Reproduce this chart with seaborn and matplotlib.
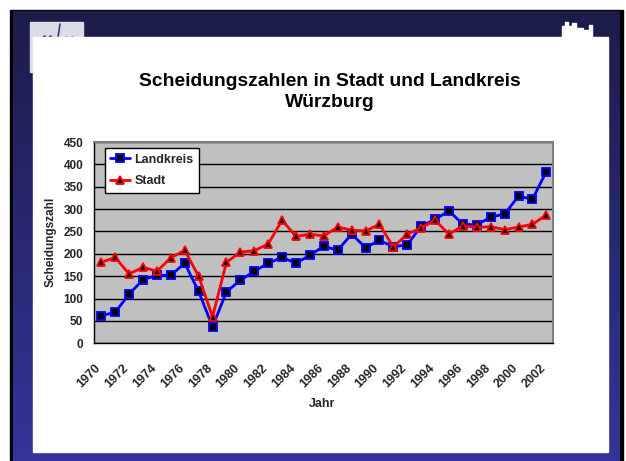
import numpy as np
import pandas as pd
import matplotlib
matplotlib.use("Agg")
import matplotlib.pyplot as plt
from matplotlib.patches import Rectangle, Polygon
from matplotlib.transforms import ScaledTranslation
import seaborn as sns

years = list(range(1970, 2003))
landkreis = [62, 69, 110, 142, 152, 152, 179, 116, 37, 115, 141, 161, 179, 192,
             179, 197, 217, 208, 244, 214, 230, 216, 220, 262, 277, 296, 266, 265,
             282, 289, 329, 322, 384]
stadt = [181, 192, 155, 170, 161, 191, 208, 150, 59, 181, 204, 207, 222, 275,
         239, 244, 240, 260, 253, 251, 266, 215, 244, 258, 275, 244, 263, 259,
         261, 254, 260, 266, 287]
tick_labels = [str(y) for y in years[::2]]
title = "Scheidungszahlen in Stadt und Landkreis\nWürzburg"

sns.set_theme(style="white")
plt.rcParams['font.family'] = ['Liberation Sans', 'DejaVu Sans']

W, H = 626, 461
fig = plt.figure(figsize=(W / 100, H / 100), dpi=100, facecolor="white")

# slide background in pixel coordinates
bg = fig.add_axes([0, 0, 1, 1], zorder=-10)
bg.axis("off")
bg.add_patch(Rectangle((10, 10), 613, 460, color="black", zorder=1))
grad = np.linspace(0, 1, 256)[:, None]
c_top = np.array([0x1c, 0x1c, 0x4a]) / 255
c_bot = np.array([0x34, 0x34, 0x9a]) / 255
img = c_top[None, None, :] * (1 - grad[:, :, None]) + c_bot[None, None, :] * grad[:, :, None]
img = np.repeat(img, 2, axis=1)
bg.imshow(img, extent=(13, 620, H, 12), aspect="auto", interpolation="bilinear", zorder=2)
# left logo
bg.add_patch(Rectangle((30, 22), 53, 50, color="#dcdce6", zorder=3))
bg.plot([60, 57], [24, 44], color="#3a3a7a", lw=1.2, zorder=4)
bg.plot([44, 50, 66, 72], [37, 37, 38, 38], color="#3a3a7a", lw=0, marker="o", ms=2, zorder=4)
# right castle logo
castle = Polygon([[562, 37], [562, 26], [565, 26], [565, 22], [568, 22], [568, 26],
                  [572, 26], [572, 23], [576, 23], [576, 28], [583, 28], [583, 30],
                  [589, 30], [589, 25], [592, 25], [592, 37]], closed=True,
                 color="white", zorder=3)
bg.add_patch(castle)
# white panel
bg.add_patch(Rectangle((33, 37), 575, 415, color="white", zorder=5))
bg.set_xlim(0, W)
bg.set_ylim(H, 0)

# chart axes
left, right, top, bottom = 94.3, 553.3, 142.0, 343.3
ax = fig.add_axes([left / W, 1 - bottom / H, (right - left) / W, (bottom - top) / H])
ax.set_facecolor("#c0c0c0")

df = pd.DataFrame({"idx": np.arange(len(years)), "Landkreis": landkreis, "Stadt": stadt})
sns.lineplot(data=df, x="idx", y="Landkreis", ax=ax, color="#0000ff", lw=2,
             marker="s", markersize=5.5, markerfacecolor="black",
             markeredgecolor="#0000ff", markeredgewidth=1.3, label="Landkreis")
sns.lineplot(data=df, x="idx", y="Stadt", ax=ax, color="#ff0000", lw=2,
             marker="^", markersize=6, markerfacecolor="black",
             markeredgecolor="#ff0000", markeredgewidth=1.3, label="Stadt")

n = len(years)
ax.set_xlim(-0.5, n - 0.5)
ax.set_ylim(0, 450)
ax.set_yticks(np.arange(0, 451, 50))
ax.yaxis.grid(True, color="black", lw=1)
ax.set_axisbelow(True)

ax.set_xticks(np.arange(-0.5, n, 1))
ax.set_xticklabels([])
ax.tick_params(axis="x", which="major", direction="out", length=4, width=1, color="black")
ax.set_xticks(np.arange(0, n, 2), labels=tick_labels, minor=True)
ax.tick_params(axis="x", which="minor", length=0, pad=12)
offset = ScaledTranslation(-0.065, -0.02, fig.dpi_scale_trans)
for lbl in ax.get_xticklabels(minor=True):
    lbl.set_rotation(45)
    lbl.set_ha("right")
    lbl.set_va("top")
    lbl.set_rotation_mode("anchor")
    lbl.set_fontsize(9)
    lbl.set_fontweight("bold")
    lbl.set_transform(lbl.get_transform() + offset)
ax.tick_params(axis="y", direction="out", length=4, width=1, color="black",
               labelsize=8.5, pad=4)
for lbl in ax.get_yticklabels():
    lbl.set_fontweight("bold")

for s in ["top", "right"]:
    ax.spines[s].set_color("#808080")
    ax.spines[s].set_linewidth(1.5)
for s in ["left", "bottom"]:
    ax.spines[s].set_color("black")
    ax.spines[s].set_linewidth(1)

ax.set_xlabel("Jahr", fontsize=9, fontweight="bold")
ax.xaxis.set_label_coords(0.497, -0.27)
ax.set_ylabel("Scheidungszahl", fontsize=8.5, fontweight="bold")
ax.yaxis.set_label_coords(-0.081, 0.505)

leg = ax.legend(loc="upper left", bbox_to_anchor=(0.023, 0.97), borderaxespad=0,
                frameon=True, fancybox=False, framealpha=1, edgecolor="black",
                prop={"weight": "bold", "size": 9}, handlelength=1.6,
                handletextpad=0.3, labelspacing=0.75, borderpad=0.45)
leg.get_frame().set_linewidth(1)

fig.text(330 / W, 1 - 92 / H, title, ha="center", va="center", fontsize=13.9,
         fontweight="bold", linespacing=1.3, color="black")

fig.savefig("out.png", dpi=100, facecolor="white")
